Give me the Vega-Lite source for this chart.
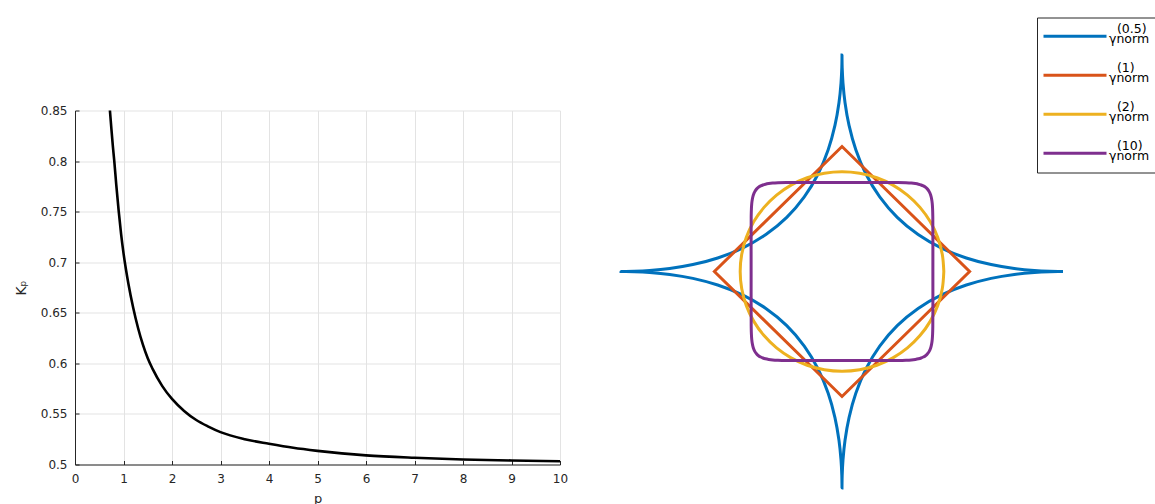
{
  "$schema": "https://vega.github.io/schema/vega-lite/v6.json",
  "background": "white",
  "padding": {"left": 14, "top": 16.5, "right": 0, "bottom": 0},
  "config": {
    "font": "DejaVu Sans",
    "view": {"stroke": null},
    "style": {"guide-label": {"lineHeight": 10}}
  },
  "bounds": "flush",
  "spacing": 40,
  "datasets": {
    "kp": [
      {"p": 0.72, "K": 0.85}, {"p": 0.75, "K": 0.832}, {"p": 0.78, "K": 0.815}, {"p": 0.81, "K": 0.8},
      {"p": 0.85, "K": 0.777}, {"p": 0.9, "K": 0.751}, {"p": 0.95, "K": 0.728}, {"p": 1.0, "K": 0.709},
      {"p": 1.05, "K": 0.693}, {"p": 1.1, "K": 0.679}, {"p": 1.2, "K": 0.655}, {"p": 1.3, "K": 0.635},
      {"p": 1.4, "K": 0.6185}, {"p": 1.5, "K": 0.605}, {"p": 1.6, "K": 0.5945}, {"p": 1.8, "K": 0.5775},
      {"p": 2.0, "K": 0.5648}, {"p": 2.25, "K": 0.553}, {"p": 2.5, "K": 0.544}, {"p": 2.75, "K": 0.5375},
      {"p": 3.0, "K": 0.532}, {"p": 3.5, "K": 0.525}, {"p": 4.0, "K": 0.5205}, {"p": 4.5, "K": 0.5165},
      {"p": 5.0, "K": 0.5135}, {"p": 5.5, "K": 0.511}, {"p": 6.0, "K": 0.509}, {"p": 7.0, "K": 0.5066},
      {"p": 8.0, "K": 0.505}, {"p": 9.0, "K": 0.504}, {"p": 10.0, "K": 0.5032}
    ],
    "shapes": [
      {"s": "0.5", "i": 0, "x": 1, "y": 0}, {"s": "0.5", "i": 1, "x": 0.9849, "y": 0.0001}, {"s": "0.5", "i": 2, "x": 0.9406, "y": 0.0009},
      {"s": "0.5", "i": 3, "x": 0.8705, "y": 0.0045}, {"s": "0.5", "i": 4, "x": 0.7797, "y": 0.0137}, {"s": "0.5", "i": 5, "x": 0.6747, "y": 0.0319},
      {"s": "0.5", "i": 6, "x": 0.5625, "y": 0.0625}, {"s": "0.5", "i": 7, "x": 0.4503, "y": 0.1082}, {"s": "0.5", "i": 8, "x": 0.3444, "y": 0.1707},
      {"s": "0.5", "i": 9, "x": 0.25, "y": 0.25}, {"s": "0.5", "i": 10, "x": 0.1707, "y": 0.3444}, {"s": "0.5", "i": 11, "x": 0.1082, "y": 0.4503},
      {"s": "0.5", "i": 12, "x": 0.0625, "y": 0.5625}, {"s": "0.5", "i": 13, "x": 0.0319, "y": 0.6747}, {"s": "0.5", "i": 14, "x": 0.0137, "y": 0.7797},
      {"s": "0.5", "i": 15, "x": 0.0045, "y": 0.8705}, {"s": "0.5", "i": 16, "x": 0.0009, "y": 0.9406}, {"s": "0.5", "i": 17, "x": 0.0001, "y": 0.9849},
      {"s": "0.5", "i": 18, "x": 0, "y": 1},
      {"s": "0.5", "i": 19, "x": -0.0001, "y": 0.9849}, {"s": "0.5", "i": 20, "x": -0.0009, "y": 0.9406}, {"s": "0.5", "i": 21, "x": -0.0045, "y": 0.8705},
      {"s": "0.5", "i": 22, "x": -0.0137, "y": 0.7797}, {"s": "0.5", "i": 23, "x": -0.0319, "y": 0.6747}, {"s": "0.5", "i": 24, "x": -0.0625, "y": 0.5625},
      {"s": "0.5", "i": 25, "x": -0.1082, "y": 0.4503}, {"s": "0.5", "i": 26, "x": -0.1707, "y": 0.3444}, {"s": "0.5", "i": 27, "x": -0.25, "y": 0.25},
      {"s": "0.5", "i": 28, "x": -0.3444, "y": 0.1707}, {"s": "0.5", "i": 29, "x": -0.4503, "y": 0.1082}, {"s": "0.5", "i": 30, "x": -0.5625, "y": 0.0625},
      {"s": "0.5", "i": 31, "x": -0.6747, "y": 0.0319}, {"s": "0.5", "i": 32, "x": -0.7797, "y": 0.0137}, {"s": "0.5", "i": 33, "x": -0.8705, "y": 0.0045},
      {"s": "0.5", "i": 34, "x": -0.9406, "y": 0.0009}, {"s": "0.5", "i": 35, "x": -0.9849, "y": 0.0001}, {"s": "0.5", "i": 36, "x": -1, "y": 0},
      {"s": "0.5", "i": 37, "x": -0.9849, "y": -0.0001}, {"s": "0.5", "i": 38, "x": -0.9406, "y": -0.0009}, {"s": "0.5", "i": 39, "x": -0.8705, "y": -0.0045},
      {"s": "0.5", "i": 40, "x": -0.7797, "y": -0.0137}, {"s": "0.5", "i": 41, "x": -0.6747, "y": -0.0319}, {"s": "0.5", "i": 42, "x": -0.5625, "y": -0.0625},
      {"s": "0.5", "i": 43, "x": -0.4503, "y": -0.1082}, {"s": "0.5", "i": 44, "x": -0.3444, "y": -0.1707}, {"s": "0.5", "i": 45, "x": -0.25, "y": -0.25},
      {"s": "0.5", "i": 46, "x": -0.1707, "y": -0.3444}, {"s": "0.5", "i": 47, "x": -0.1082, "y": -0.4503}, {"s": "0.5", "i": 48, "x": -0.0625, "y": -0.5625},
      {"s": "0.5", "i": 49, "x": -0.0319, "y": -0.6747}, {"s": "0.5", "i": 50, "x": -0.0137, "y": -0.7797}, {"s": "0.5", "i": 51, "x": -0.0045, "y": -0.8705},
      {"s": "0.5", "i": 52, "x": -0.0009, "y": -0.9406}, {"s": "0.5", "i": 53, "x": -0.0001, "y": -0.9849}, {"s": "0.5", "i": 54, "x": 0, "y": -1},
      {"s": "0.5", "i": 55, "x": 0.0001, "y": -0.9849}, {"s": "0.5", "i": 56, "x": 0.0009, "y": -0.9406}, {"s": "0.5", "i": 57, "x": 0.0045, "y": -0.8705},
      {"s": "0.5", "i": 58, "x": 0.0137, "y": -0.7797}, {"s": "0.5", "i": 59, "x": 0.0319, "y": -0.6747}, {"s": "0.5", "i": 60, "x": 0.0625, "y": -0.5625},
      {"s": "0.5", "i": 61, "x": 0.1082, "y": -0.4503}, {"s": "0.5", "i": 62, "x": 0.1707, "y": -0.3444}, {"s": "0.5", "i": 63, "x": 0.25, "y": -0.25},
      {"s": "0.5", "i": 64, "x": 0.3444, "y": -0.1707}, {"s": "0.5", "i": 65, "x": 0.4503, "y": -0.1082}, {"s": "0.5", "i": 66, "x": 0.5625, "y": -0.0625},
      {"s": "0.5", "i": 67, "x": 0.6747, "y": -0.0319}, {"s": "0.5", "i": 68, "x": 0.7797, "y": -0.0137}, {"s": "0.5", "i": 69, "x": 0.8705, "y": -0.0045},
      {"s": "0.5", "i": 70, "x": 0.9406, "y": -0.0009}, {"s": "0.5", "i": 71, "x": 0.9849, "y": -0.0001}, {"s": "0.5", "i": 72, "x": 1, "y": 0},

      {"s": "1", "i": 0, "x": 0.2887, "y": 0.2887}, {"s": "1", "i": 1, "x": 0, "y": 0.5774}, {"s": "1", "i": 2, "x": -0.5774, "y": 0},
      {"s": "1", "i": 3, "x": 0, "y": -0.5774}, {"s": "1", "i": 4, "x": 0.5774, "y": 0}, {"s": "1", "i": 5, "x": 0.2887, "y": 0.2887},

      {"s": "2", "i": 0, "x": 0.4607, "y": 0}, {"s": "2", "i": 1, "x": 0.4537, "y": 0.08}, {"s": "2", "i": 2, "x": 0.4329, "y": 0.1576},
      {"s": "2", "i": 3, "x": 0.399, "y": 0.2304}, {"s": "2", "i": 4, "x": 0.3529, "y": 0.2961}, {"s": "2", "i": 5, "x": 0.2961, "y": 0.3529},
      {"s": "2", "i": 6, "x": 0.2304, "y": 0.399}, {"s": "2", "i": 7, "x": 0.1576, "y": 0.4329}, {"s": "2", "i": 8, "x": 0.08, "y": 0.4537},
      {"s": "2", "i": 9, "x": 0, "y": 0.4607}, {"s": "2", "i": 10, "x": -0.08, "y": 0.4537}, {"s": "2", "i": 11, "x": -0.1576, "y": 0.4329},
      {"s": "2", "i": 12, "x": -0.2304, "y": 0.399}, {"s": "2", "i": 13, "x": -0.2961, "y": 0.3529}, {"s": "2", "i": 14, "x": -0.3529, "y": 0.2961},
      {"s": "2", "i": 15, "x": -0.399, "y": 0.2304}, {"s": "2", "i": 16, "x": -0.4329, "y": 0.1576}, {"s": "2", "i": 17, "x": -0.4537, "y": 0.08},
      {"s": "2", "i": 18, "x": -0.4607, "y": 0}, {"s": "2", "i": 19, "x": -0.4537, "y": -0.08}, {"s": "2", "i": 20, "x": -0.4329, "y": -0.1576},
      {"s": "2", "i": 21, "x": -0.399, "y": -0.2304}, {"s": "2", "i": 22, "x": -0.3529, "y": -0.2961}, {"s": "2", "i": 23, "x": -0.2961, "y": -0.3529},
      {"s": "2", "i": 24, "x": -0.2304, "y": -0.399}, {"s": "2", "i": 25, "x": -0.1576, "y": -0.4329}, {"s": "2", "i": 26, "x": -0.08, "y": -0.4537},
      {"s": "2", "i": 27, "x": 0, "y": -0.4607}, {"s": "2", "i": 28, "x": 0.08, "y": -0.4537}, {"s": "2", "i": 29, "x": 0.1576, "y": -0.4329},
      {"s": "2", "i": 30, "x": 0.2304, "y": -0.399}, {"s": "2", "i": 31, "x": 0.2961, "y": -0.3529}, {"s": "2", "i": 32, "x": 0.3529, "y": -0.2961},
      {"s": "2", "i": 33, "x": 0.399, "y": -0.2304}, {"s": "2", "i": 34, "x": 0.4329, "y": -0.1576}, {"s": "2", "i": 35, "x": 0.4537, "y": -0.08},
      {"s": "2", "i": 36, "x": 0.4607, "y": 0},

      {"s": "10", "i": 0, "x": 0.4112, "y": 0}, {"s": "10", "i": 1, "x": 0.4109, "y": 0.2524}, {"s": "10", "i": 2, "x": 0.4099, "y": 0.2897},
      {"s": "10", "i": 3, "x": 0.4084, "y": 0.3138}, {"s": "10", "i": 4, "x": 0.4061, "y": 0.3318}, {"s": "10", "i": 5, "x": 0.4032, "y": 0.3461},
      {"s": "10", "i": 6, "x": 0.3995, "y": 0.358}, {"s": "10", "i": 7, "x": 0.3951, "y": 0.3679}, {"s": "10", "i": 8, "x": 0.3899, "y": 0.3764},
      {"s": "10", "i": 9, "x": 0.3837, "y": 0.3837}, {"s": "10", "i": 10, "x": 0.3764, "y": 0.3899}, {"s": "10", "i": 11, "x": 0.3679, "y": 0.3951},
      {"s": "10", "i": 12, "x": 0.358, "y": 0.3995}, {"s": "10", "i": 13, "x": 0.3461, "y": 0.4032}, {"s": "10", "i": 14, "x": 0.3318, "y": 0.4061},
      {"s": "10", "i": 15, "x": 0.3138, "y": 0.4084}, {"s": "10", "i": 16, "x": 0.2897, "y": 0.4099}, {"s": "10", "i": 17, "x": 0.2524, "y": 0.4109},
      {"s": "10", "i": 18, "x": 0, "y": 0.4112},
      {"s": "10", "i": 19, "x": -0.2524, "y": 0.4109}, {"s": "10", "i": 20, "x": -0.2897, "y": 0.4099}, {"s": "10", "i": 21, "x": -0.3138, "y": 0.4084},
      {"s": "10", "i": 22, "x": -0.3318, "y": 0.4061}, {"s": "10", "i": 23, "x": -0.3461, "y": 0.4032}, {"s": "10", "i": 24, "x": -0.358, "y": 0.3995},
      {"s": "10", "i": 25, "x": -0.3679, "y": 0.3951}, {"s": "10", "i": 26, "x": -0.3764, "y": 0.3899}, {"s": "10", "i": 27, "x": -0.3837, "y": 0.3837},
      {"s": "10", "i": 28, "x": -0.3899, "y": 0.3764}, {"s": "10", "i": 29, "x": -0.3951, "y": 0.3679}, {"s": "10", "i": 30, "x": -0.3995, "y": 0.358},
      {"s": "10", "i": 31, "x": -0.4032, "y": 0.3461}, {"s": "10", "i": 32, "x": -0.4061, "y": 0.3318}, {"s": "10", "i": 33, "x": -0.4084, "y": 0.3138},
      {"s": "10", "i": 34, "x": -0.4099, "y": 0.2897}, {"s": "10", "i": 35, "x": -0.4109, "y": 0.2524}, {"s": "10", "i": 36, "x": -0.4112, "y": 0},
      {"s": "10", "i": 37, "x": -0.4109, "y": -0.2524}, {"s": "10", "i": 38, "x": -0.4099, "y": -0.2897}, {"s": "10", "i": 39, "x": -0.4084, "y": -0.3138},
      {"s": "10", "i": 40, "x": -0.4061, "y": -0.3318}, {"s": "10", "i": 41, "x": -0.4032, "y": -0.3461}, {"s": "10", "i": 42, "x": -0.3995, "y": -0.358},
      {"s": "10", "i": 43, "x": -0.3951, "y": -0.3679}, {"s": "10", "i": 44, "x": -0.3899, "y": -0.3764}, {"s": "10", "i": 45, "x": -0.3837, "y": -0.3837},
      {"s": "10", "i": 46, "x": -0.3764, "y": -0.3899}, {"s": "10", "i": 47, "x": -0.3679, "y": -0.3951}, {"s": "10", "i": 48, "x": -0.358, "y": -0.3995},
      {"s": "10", "i": 49, "x": -0.3461, "y": -0.4032}, {"s": "10", "i": 50, "x": -0.3318, "y": -0.4061}, {"s": "10", "i": 51, "x": -0.3138, "y": -0.4084},
      {"s": "10", "i": 52, "x": -0.2897, "y": -0.4099}, {"s": "10", "i": 53, "x": -0.2524, "y": -0.4109}, {"s": "10", "i": 54, "x": 0, "y": -0.4112},
      {"s": "10", "i": 55, "x": 0.2524, "y": -0.4109}, {"s": "10", "i": 56, "x": 0.2897, "y": -0.4099}, {"s": "10", "i": 57, "x": 0.3138, "y": -0.4084},
      {"s": "10", "i": 58, "x": 0.3318, "y": -0.4061}, {"s": "10", "i": 59, "x": 0.3461, "y": -0.4032}, {"s": "10", "i": 60, "x": 0.358, "y": -0.3995},
      {"s": "10", "i": 61, "x": 0.3679, "y": -0.3951}, {"s": "10", "i": 62, "x": 0.3764, "y": -0.3899}, {"s": "10", "i": 63, "x": 0.3837, "y": -0.3837},
      {"s": "10", "i": 64, "x": 0.3899, "y": -0.3764}, {"s": "10", "i": 65, "x": 0.3951, "y": -0.3679}, {"s": "10", "i": 66, "x": 0.3995, "y": -0.358},
      {"s": "10", "i": 67, "x": 0.4032, "y": -0.3461}, {"s": "10", "i": 68, "x": 0.4061, "y": -0.3318}, {"s": "10", "i": 69, "x": 0.4084, "y": -0.3138},
      {"s": "10", "i": 70, "x": 0.4099, "y": -0.2897}, {"s": "10", "i": 71, "x": 0.4109, "y": -0.2524}, {"s": "10", "i": 72, "x": 0.4112, "y": 0}
    ]
  },
  "hconcat": [
    {
      "width": 485,
      "height": 354,
      "data": {"name": "kp"},
      "mark": {"type": "line", "color": "black", "strokeWidth": 2.6, "interpolate": "monotone"},
      "encoding": {
        "x": {
          "field": "p", "type": "quantitative",
          "scale": {"domain": [0, 10], "nice": false, "zero": false},
          "axis": {
            "values": [0, 1, 2, 3, 4, 5, 6, 7, 8, 9, 10], "format": "d", "title": "p",
            "titleFontWeight": "normal", "titleFontSize": 13, "titleColor": "#262626", "titlePadding": 8,
            "labelFontSize": 12, "labelColor": "#262626", "labelPadding": 13, "labelFlush": false,
            "tickSize": -4, "tickColor": "#262626", "domainColor": "#262626",
            "grid": true, "gridColor": "#e3e3e3"
          }
        },
        "y": {
          "field": "K", "type": "quantitative",
          "scale": {"domain": [0.5, 0.85], "nice": false, "zero": false},
          "axis": {
            "values": [0.5, 0.55, 0.6, 0.65, 0.7, 0.75, 0.8, 0.85], "format": "~g", "title": "Kₚ",
            "titleFontWeight": "normal", "titleFontSize": 14, "titleColor": "#262626", "titlePadding": 12,
            "labelFontSize": 12, "labelColor": "#262626", "labelPadding": 12, "labelFlush": false,
            "tickSize": -4, "tickColor": "#262626", "domainColor": "#262626",
            "grid": true, "gridColor": "#e3e3e3"
          }
        }
      }
    },
    {
      "width": 484,
      "height": 354,
      "data": {"name": "shapes"},
      "encoding": {
        "x": {"field": "x", "type": "quantitative", "scale": {"domain": [-1.095, 1.095], "nice": false, "zero": false}, "axis": null},
        "y": {"field": "y", "type": "quantitative", "scale": {"domain": [-0.8915, 0.7436], "nice": false, "zero": false}, "axis": null},
        "order": {"field": "i", "type": "quantitative"},
        "color": {
          "field": "s", "type": "nominal",
          "scale": {"domain": ["0.5", "1", "2", "10"], "range": ["#0072BD", "#D95319", "#EDB120", "#7E2F8E"]},
          "legend": {
            "title": null, "orient": "none", "legendX": 962, "legendY": -93,
            "symbolType": "stroke", "symbolSize": 3969, "symbolStrokeWidth": 3,
            "clipHeight": 27.5, "padding": 5, "rowPadding": 11,
            "labelOffset": 1, "labelFontSize": 12.5, "labelColor": "#000000", "labelBaseline": "bottom",
            "labelExpr": "['\u200b\u00a0\u00a0(' + datum.label + ')', 'γnorm']",
            "strokeColor": "#262626", "fillColor": "white"
          }
        }
      },
      "layer": [
        {"transform": [{"filter": "datum.s == '0.5'"}], "mark": {"type": "line", "strokeWidth": 3, "interpolate": "catmull-rom"}},
        {"transform": [{"filter": "datum.s == '1'"}], "mark": {"type": "line", "strokeWidth": 3}},
        {"transform": [{"filter": "datum.s == '2' || datum.s == '10'"}], "mark": {"type": "line", "strokeWidth": 3, "interpolate": "catmull-rom"}}
      ]
    }
  ]
}
